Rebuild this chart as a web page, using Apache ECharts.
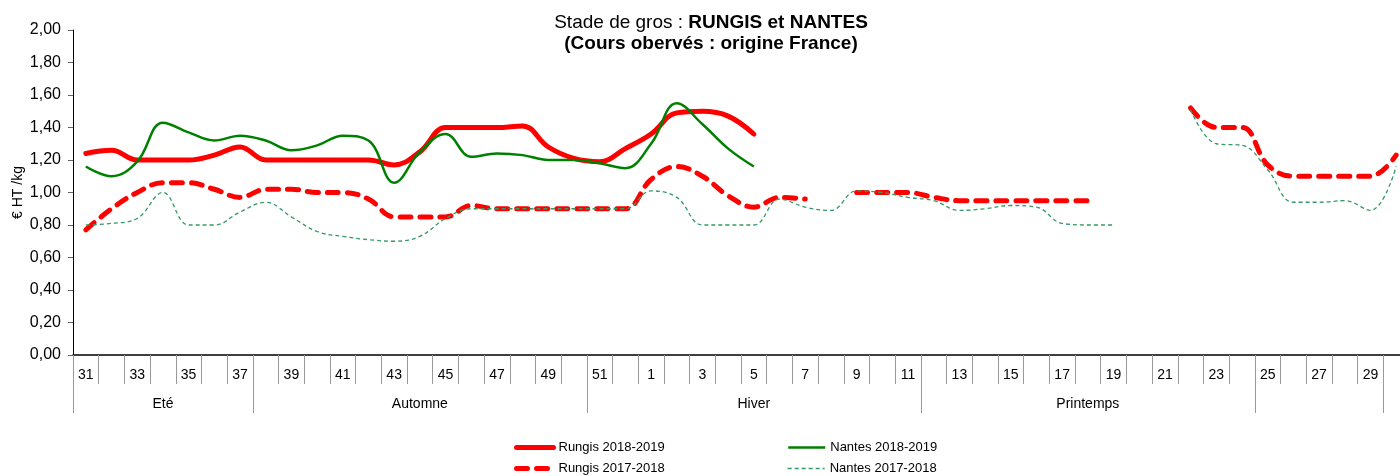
<!DOCTYPE html>
<html>
<head>
<meta charset="utf-8">
<script src="https://cdn.jsdelivr.net/npm/echarts@6/dist/echarts.min.js"></script>
<style>
html, body { margin: 0; padding: 0; background: #fff; }
#chart { width: 1400px; height: 476px; }
</style>
</head>
<body>
<div id="chart"></div>
<script>
var weeks = ['31','32','33','34','35','36','37','38','39','40','41','42','43','44','45','46','47','48','49','50','51','52',
    '1','2','3','4','5','6','7','8','9','10','11','12','13','14','15','16','17','18','19','20','21','22','23','24','25','26','27','28','29','30'];

// saisons : index de début de chaque groupe de semaines
var seasonNames = ['Eté', 'Automne', 'Hiver', 'Printemps', ''];
var seasonStarts = [0, 7, 20, 33, 46, 51];

var rungis1819 = [1.24,1.26,1.20,1.20,1.20,1.23,1.28,1.20,1.20,1.20,1.20,1.20,1.17,1.25,1.40,1.40,1.40,1.41,1.28,1.21,1.19,1.27,
    1.36,1.49,1.50,1.47,1.36,null,null,null,null,null,null,null,null,null,null,null,null,null,null,null,null,null,null,null,null,null,null,null,null,null];
var nantes1819 = [1.16,1.10,1.19,1.43,1.37,1.32,1.35,1.32,1.26,1.29,1.35,1.32,1.06,1.25,1.36,1.22,1.24,1.23,1.20,1.20,1.18,1.15,
    1.30,1.55,1.42,1.27,1.16,null,null,null,null,null,null,null,null,null,null,null,null,null,null,null,null,null,null,null,null,null,null,null,null,null];
var rungis1718 = [0.77,0.90,1.00,1.06,1.06,1.02,0.97,1.02,1.02,1.00,1.00,0.96,0.85,0.85,0.85,0.92,0.90,0.90,0.90,0.90,0.90,0.90,
    1.08,1.16,1.10,0.98,0.91,0.97,0.96,null,1.00,1.00,1.00,0.97,0.95,0.95,0.95,0.95,0.95,0.95,null,null,null,1.52,1.40,1.40,1.17,1.10,1.10,1.10,1.10,1.23];
var nantes1718 = [0.80,0.81,0.84,1.00,0.80,0.80,0.88,0.94,0.85,0.76,0.73,0.71,0.70,0.73,0.84,0.90,0.90,0.90,0.90,0.90,0.90,0.90,
    1.01,0.97,0.80,0.80,0.80,0.96,0.91,0.89,1.01,1.00,0.97,0.95,0.89,0.90,0.92,0.91,0.81,0.80,0.80,null,null,1.51,1.30,1.29,1.14,0.94,0.94,0.95,0.89,1.16];

var font = 'Liberation Sans, Arial, sans-serif';

// libellé de saison au milieu de chaque groupe
var seasonAt = {};
for (var s = 0; s < seasonNames.length; s++) {
    var mid = Math.floor((seasonStarts[s] + seasonStarts[s + 1] - 1) / 2);
    seasonAt[mid] = seasonNames[s];
}

var chart = echarts.init(document.getElementById('chart'));

function legendItem(name, left, top) {
    return {
        data: [name],
        left: left,
        top: top,
        padding: 0,
        itemWidth: 37,
        itemHeight: 12,
        selectedMode: false,
        itemStyle: { color: 'rgba(0,0,0,0)', borderWidth: 0 },
        lineStyle: { width: 'inherit' },
        textStyle: { fontFamily: font, fontSize: 13, color: '#000' }
    };
}

chart.setOption({
    animation: false,
    backgroundColor: '#fff',
    title: {
        text: '{n|Stade de gros : }{b|RUNGIS et NANTES}',
        subtext: '(Cours obervés : origine France)',
        left: 706,
        top: 8,
        textAlign: 'center',
        itemGap: 2,
        textStyle: {
            rich: {
                n: { fontFamily: font, fontSize: 19, fontWeight: 'normal', color: '#000' },
                b: { fontFamily: font, fontSize: 19, fontWeight: 'bold', color: '#000' }
            }
        },
        subtextStyle: { fontFamily: font, fontSize: 19, fontWeight: 'bold', color: '#000' }
    },
    legend: [
        legendItem('Rungis 2018-2019', 514, 441),
        legendItem('Nantes 2018-2019', 787, 441),
        legendItem('Rungis 2017-2018', 514, 462),
        legendItem('Nantes 2017-2018', 787, 462)
    ],
    grid: { left: 73, right: -9, top: 30, bottom: 121, outerBoundsMode: 'none' },
    xAxis: [{
        type: 'category',
        data: weeks,
        boundaryGap: true,
        axisLine: { lineStyle: { color: '#000', width: 1.5 } },
        axisTick: { show: true, interval: 0, length: 29, lineStyle: { color: '#999' } },
        axisLabel: { interval: 1, margin: 13, fontFamily: font, fontSize: 14, color: '#000' }
    }, {
        type: 'category',
        data: weeks,
        position: 'bottom',
        boundaryGap: true,
        axisLine: { show: false },
        axisTick: {
            show: true,
            length: 58,
            interval: function (index) { return seasonStarts.indexOf(index) >= 0; },
            lineStyle: { color: '#999' }
        },
        axisLabel: {
            interval: 0,
            margin: 42,
            fontFamily: font, fontSize: 14, color: '#000',
            formatter: function (v, i) { return seasonAt[i] || ''; }
        }
    }],
    yAxis: {
        type: 'value',
        min: 0,
        max: 2,
        interval: 0.2,
        name: '€ HT /kg',
        nameLocation: 'middle',
        nameGap: 48,
        nameMoveOverlap: false,
        nameTextStyle: { fontFamily: font, fontSize: 14, color: '#000' },
        axisLine: { show: true, lineStyle: { color: '#000' } },
        axisTick: { show: true, length: 5, lineStyle: { color: '#666' } },
        splitLine: { show: false },
        axisLabel: {
            margin: 12,
            fontFamily: font, fontSize: 16, color: '#000',
            formatter: function (v) { return v.toFixed(2).replace('.', ','); }
        }
    },
    series: [{
        name: 'Rungis 2018-2019',
        type: 'line',
        data: rungis1819,
        smooth: 0.4,
        symbol: 'none',
        lineStyle: { color: '#ff0000', width: 5, cap: 'round' },
        itemStyle: { color: '#ff0000' }
    }, {
        name: 'Nantes 2018-2019',
        type: 'line',
        data: nantes1819,
        smooth: 0.4,
        symbol: 'none',
        lineStyle: { color: '#008000', width: 2.5 },
        itemStyle: { color: '#008000' }
    }, {
        name: 'Rungis 2017-2018',
        type: 'line',
        data: rungis1718,
        smooth: 0.4,
        symbol: 'none',
        lineStyle: { color: '#ff0000', width: 5, type: [11, 9], cap: 'round' },
        itemStyle: { color: '#ff0000' }
    }, {
        name: 'Nantes 2017-2018',
        type: 'line',
        data: nantes1718,
        smooth: 0.4,
        symbol: 'none',
        lineStyle: { color: '#339966', width: 1.3, type: [4, 3] },
        itemStyle: { color: '#339966' }
    }]
});
</script>
</body>
</html>
